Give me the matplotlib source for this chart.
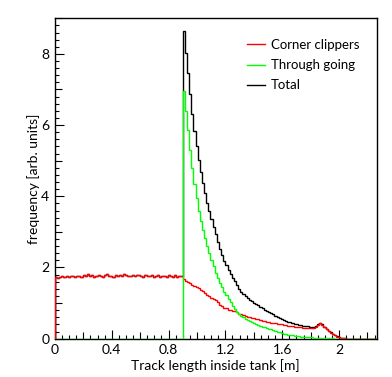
import numpy as np
import matplotlib
matplotlib.use("Agg")
import matplotlib.pyplot as plt
from matplotlib.ticker import MultipleLocator, FuncFormatter

# histogram binning (m)
bin_width = 0.015
n_bins = 151

# corner clippers, read bin by bin from 0 m
corner = [
    1.72, 1.70, 1.74, 1.75, 1.73, 1.76, 1.74, 1.75, 1.77, 1.73,
    1.75, 1.76, 1.74, 1.78, 1.76, 1.82, 1.77, 1.80, 1.74, 1.76,
    1.79, 1.75, 1.73, 1.78, 1.83, 1.77, 1.76, 1.74, 1.78, 1.76,
    1.80, 1.77, 1.81, 1.78, 1.75, 1.77, 1.79, 1.76, 1.80, 1.78,
    1.76, 1.74, 1.79, 1.77, 1.75, 1.78, 1.73, 1.76, 1.80, 1.74,
    1.77, 1.75, 1.72, 1.78, 1.76, 1.74, 1.79, 1.73, 1.75, 1.76,
    # 0.9 m onwards
    1.68, 1.63, 1.60, 1.56, 1.52, 1.47, 1.45, 1.42, 1.38, 1.33,
    1.27, 1.22, 1.19, 1.15, 1.12, 1.08, 1.02, 0.96, 0.92, 0.87,
    0.85, 0.82, 0.80, 0.78, 0.77, 0.74, 0.70, 0.68, 0.66, 0.64,
    0.62, 0.60, 0.59, 0.57, 0.56, 0.55, 0.53, 0.51, 0.49, 0.48,
    0.47, 0.45, 0.44, 0.43, 0.42, 0.41, 0.40, 0.39, 0.38, 0.37,
    0.36, 0.35, 0.34, 0.33, 0.32, 0.32, 0.31, 0.30, 0.30, 0.29,
    0.29, 0.30, 0.33, 0.38, 0.43, 0.38, 0.32, 0.27, 0.22, 0.17,
    0.13, 0.09, 0.06, 0.04, 0.02, 0.01,
]

# through going, nonzero only from 0.9 m
through = [0.0] * 60 + [
    6.95, 6.40, 5.85, 5.30, 4.80, 4.35, 3.95, 3.60, 3.30, 3.05,
    2.82, 2.60, 2.40, 2.20, 2.03, 1.85, 1.70, 1.56, 1.44, 1.32,
    1.22, 1.12, 1.02, 0.92, 0.84, 0.76, 0.70, 0.64, 0.60, 0.56,
    0.52, 0.49, 0.46, 0.43, 0.41, 0.39, 0.37, 0.34, 0.32, 0.30,
    0.28, 0.26, 0.24, 0.22, 0.20, 0.18, 0.15, 0.13, 0.12, 0.11,
    0.10, 0.09, 0.08, 0.07, 0.065, 0.06, 0.055, 0.05, 0.045, 0.04,
    0.035, 0.03, 0.03, 0.025, 0.02, 0.02, 0.015, 0.015, 0.01, 0.01,
    0.01, 0.005, 0.005,
]

corner = np.array(corner + [0.0] * (n_bins - len(corner)))
through = np.array(through + [0.0] * (n_bins - len(through)))
total = corner + through
edges = np.arange(n_bins + 1) * bin_width

plt.rcParams['font.family'] = ['Lato', 'DejaVu Sans']

fig = plt.figure(figsize=(3.92, 3.77), dpi=100)
ax = fig.add_axes([0.140, 0.1016, 0.821, 0.8499])

ax.stairs(total, edges, color='black', lw=1.0, label='Total', zorder=2)
ax.stairs(corner, edges, color='#ff0000', lw=1.0, label='Corner clippers', zorder=3)
ax.stairs(through, edges, color='#00ff00', lw=1.0, label='Through going', zorder=4)

ax.set_xlim(0, edges[-1])
ax.set_ylim(0, 9.0)

ax.xaxis.set_major_locator(MultipleLocator(0.2))
ax.xaxis.set_minor_locator(MultipleLocator(0.05))
ax.yaxis.set_major_locator(MultipleLocator(1))
ax.yaxis.set_minor_locator(MultipleLocator(0.2))
ax.xaxis.set_major_formatter(FuncFormatter(
    lambda v, p: ('%g' % round(v, 2)) if abs(v / 0.4 - round(v / 0.4)) < 1e-6 else ''))
ax.yaxis.set_major_formatter(FuncFormatter(
    lambda v, p: '%d' % round(v) if round(v) % 2 == 0 else ''))

ax.tick_params(which='both', direction='in', top=False, right=False, width=0.8,
               labelsize=10, pad=4)
ax.tick_params(which='minor', length=3)
ax.tick_params(which='major', length=5)
# longer ticks where there is a label
for t, v in zip(ax.xaxis.get_major_ticks(), ax.xaxis.get_majorticklocs()):
    if abs(v / 0.4 - round(v / 0.4)) < 1e-6:
        t.tick1line.set_markersize(6.5)
for t, v in zip(ax.yaxis.get_major_ticks(), ax.yaxis.get_majorticklocs()):
    if round(v) % 2 == 0:
        t.tick1line.set_markersize(6.5)

for s in ax.spines.values():
    s.set_linewidth(1.0)

ax.set_xlabel('Track length inside tank [m]', fontsize=10, labelpad=2)
ax.set_ylabel('frequency [arb. units]', fontsize=10, labelpad=1)

h, l = ax.get_legend_handles_labels()
order = [1, 2, 0]
ax.legend([h[i] for i in order], [l[i] for i in order], frameon=False,
          loc='upper left', bbox_to_anchor=(0.597, 0.935), fontsize=9.5,
          handlelength=1.35, handletextpad=0.45, labelspacing=0.62, borderpad=0,
          borderaxespad=0)

fig.savefig('out.png', dpi=100)
